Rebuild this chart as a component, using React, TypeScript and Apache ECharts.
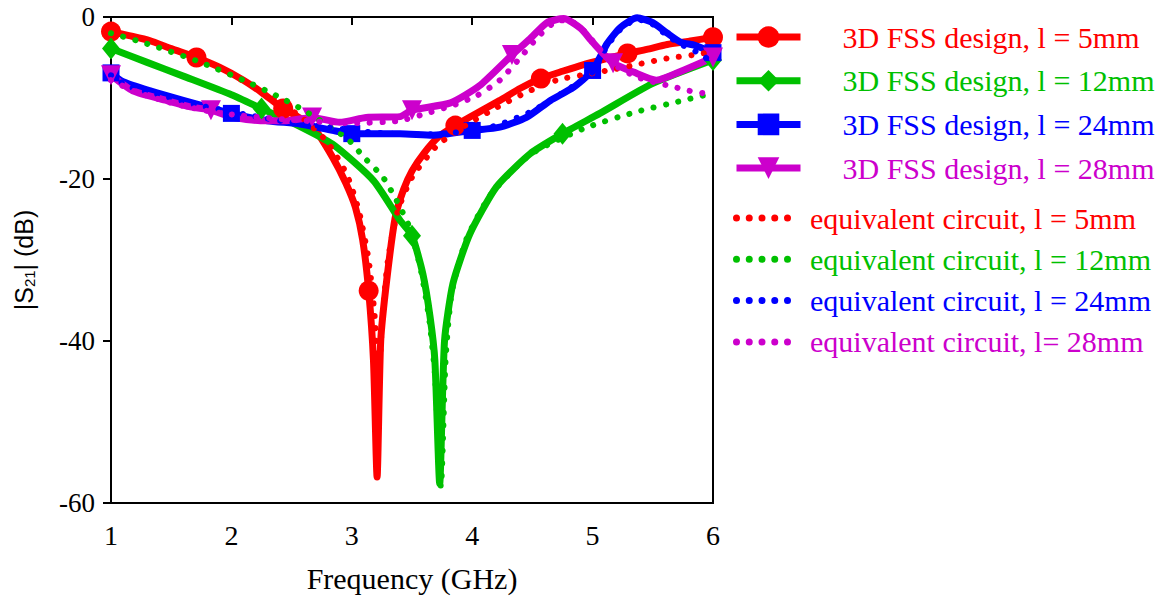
import React, { useEffect, useRef } from "react";
import * as echarts from "echarts";

// ---------- data ----------
const redX = [1, 1.15, 1.32, 1.5, 1.71, 1.9, 2.1, 2.25, 2.43, 2.55, 2.68, 2.84, 2.95, 3.03, 3.09, 3.14, 3.18, 3.21, 3.24, 3.29, 3.36, 3.43, 3.5, 3.6, 3.72, 3.86, 4.0, 4.23, 4.4, 4.57, 4.75, 4.92, 5.1, 5.29, 5.45, 5.62, 5.8, 6];
const redY = [-1.8, -2.3, -2.9, -3.9, -5.0, -6.2, -7.8, -9.3, -11.3, -12.3, -13.6, -17.3, -20.5, -23.5, -27.5, -33.8, -42.4, -56.8, -40, -32.5, -24.8, -21.3, -19, -16.8, -14.8, -13.4, -12.2, -10.3, -8.8, -7.6, -6.7, -5.9, -5.2, -4.5, -4.0, -3.4, -3.0, -2.5];
const redMarkers = [1, 1.71, 2.43, 3.14, 3.86, 4.57, 5.29, 6];

const redEqX = [1, 1.3, 1.71, 2.1, 2.4, 2.6, 2.8, 2.96, 3.06, 3.14, 3.19, 3.22, 3.25, 3.3, 3.38, 3.5, 3.7, 3.9, 4.2, 4.45, 4.7, 4.98, 5.2, 5.39, 5.62, 5.83, 6];
const redEqY = [-1.9, -3.0, -5.1, -7.9, -10.5, -12.6, -15.5, -19.5, -24, -30, -37, -46, -38, -30, -24, -19.8, -16, -13.8, -11.2, -9.3, -7.8, -7.0, -6.4, -5.8, -5.1, -4.7, -4.3];

const greenX = [1, 1.3, 1.6, 2.0, 2.25, 2.5, 2.84, 3.18, 3.4, 3.5, 3.59, 3.65, 3.69, 3.73, 3.77, 3.84, 3.98, 4.2, 4.48, 4.75, 5.06, 5.5, 6];
const greenY = [-3.9, -5.6, -7.3, -9.6, -11.3, -13.0, -15.7, -20.2, -25.1, -27.0, -31.7, -37, -42.4, -57.6, -40, -32.9, -26.8, -21, -16.9, -14.4, -11.9, -8.2, -5.3];
const greenMarkers = [1, 2.25, 3.5, 4.75, 6];

const greenEqX = [1, 1.3, 1.71, 2.1, 2.4, 2.6, 2.96, 3.1, 3.26, 3.37, 3.48, 3.57, 3.64, 3.69, 3.74, 3.78, 3.83, 3.95, 4.15, 4.48, 4.92, 5.34, 5.75, 6];
const greenEqY = [-2.0, -3.3, -5.4, -7.8, -9.9, -11.5, -15.0, -17.3, -19.8, -22.6, -26, -31, -37, -44, -58, -42, -34, -27.5, -22, -17, -13.8, -11.8, -10.3, -9.4];

const blueX = [1, 1.1, 1.32, 1.6, 2.0, 2.3, 2.57, 2.84, 3.0, 3.4, 3.67, 4.0, 4.23, 4.45, 4.65, 4.84, 5.0, 5.12, 5.23, 5.37, 5.5, 5.62, 5.73, 5.85, 6];
const blueY = [-6.9, -8.0, -9.1, -10.3, -11.9, -12.8, -13.2, -14.0, -14.4, -14.4, -14.6, -14.0, -13.6, -12.4, -10.3, -8.7, -6.6, -3.3, -1.3, -0.1, -0.7, -2.0, -3.1, -3.5, -4.4];
const blueMarkers = [1, 2, 3, 4, 5, 6];

const blueEqX = [1, 1.15, 1.4, 1.7, 2.0, 2.4, 2.8, 3.2, 3.6, 3.9, 4.2, 4.5, 4.8, 5.0, 5.12, 5.24, 5.37, 5.5, 5.62, 5.75, 5.9, 6];
const blueEqY = [-7.2, -8.6, -9.6, -10.8, -11.7, -12.8, -13.6, -14.3, -14.5, -14.2, -13.4, -11.6, -8.9, -6.8, -3.6, -1.4, -0.3, -0.9, -2.3, -3.5, -4.6, -5.7];

const magX = [1, 1.18, 1.46, 1.66, 1.83, 2.01, 2.24, 2.46, 2.67, 2.9, 3.12, 3.4, 3.5, 3.82, 4.06, 4.33, 4.48, 4.62, 4.76, 4.9, 5.0, 5.17, 5.34, 5.53, 5.75, 6];
const magY = [-7.2, -9.1, -10.3, -11.1, -11.5, -12.4, -12.8, -12.8, -12.4, -13.0, -12.4, -12.3, -11.5, -10.6, -8.5, -4.7, -2.7, -0.7, -0.2, -1.4, -3.1, -5.7, -6.8, -7.8, -6.6, -5.0];
const magMarkers = [1, 1.83, 2.67, 3.5, 4.33, 5.17, 6];

const magEqX = [1, 1.2, 1.5, 1.8, 2.1, 2.5, 3.0, 3.4, 3.62, 3.84, 4.04, 4.23, 4.4, 4.55, 4.7, 4.8, 4.92, 5.05, 5.18, 5.35, 5.5, 5.64, 5.8, 6];
const magEqY = [-7.8, -9.2, -10.6, -11.6, -12.2, -12.7, -13.1, -12.8, -11.9, -10.9, -9.7, -7.8, -5.0, -2.4, -0.5, -0.4, -1.6, -3.8, -5.9, -7.3, -8.0, -8.5, -9.1, -9.6];

const designNames = [
  "3D FSS design, l = 5mm",
  "3D FSS design, l = 12mm",
  "3D FSS design, l = 24mm",
  "3D FSS design, l = 28mm",
];
const circuitNames = [
  "equivalent circuit, l = 5mm",
  "equivalent circuit, l = 12mm",
  "equivalent circuit, l = 24mm",
  "equivalent circuit, l= 28mm",
];
const xTicks = { min: 1, max: 6, interval: 1 };
const yTicks = { min: -60, max: 0, interval: 20 };

const RED = "#ff0000";
const GREEN = "#00c000";
const BLUE = "#0000ff";
const MAG = "#cc00cc";
const SERIF = '"Liberation Serif", "Times New Roman", serif';
const SANS = '"Liberation Sans", Arial, sans-serif';

function withMarkers(xs: number[], ys: number[], markers: number[]) {
  return xs.map((x, i) =>
    markers.indexOf(x) >= 0 ? { value: [x, ys[i]] } : { value: [x, ys[i]], symbol: "none" }
  );
}
function plain(xs: number[], ys: number[]) {
  return xs.map((x, i) => [x, ys[i]]);
}

const dotsPath = (() => {
  let d = "path://";
  const r = 3.5;
  const n = 5;
  const w = 58;
  for (let i = 0; i < n; i++) {
    const cx = r + (i * (w - 2 * r)) / (n - 1);
    d += `M${cx - r},${r}a${r},${r} 0 1,0 ${2 * r},0a${r},${r} 0 1,0 ${-2 * r},0Z`;
  }
  return d;
})();

export default function App() {
  const ref = useRef<HTMLDivElement>(null);
  useEffect(() => {
    if (!ref.current) return;
    const chart = echarts.init(ref.current, null, { renderer: "svg" });

    const solid = (name: string, color: string, data: any[], symbol: string, size: any, rotate = 0) => ({
      type: "line",
      name,
      data,
      symbol,
      symbolSize: size,
      symbolRotate: rotate,
      showSymbol: true,
      smooth: 0.2,
      lineStyle: { color, width: 7 },
      itemStyle: { color },
      z: 2,
    });
    const dotted = (name: string, color: string, data: any[]) => ({
      type: "line",
      name,
      data,
      symbol: "none",
      smooth: 0.2,
      lineStyle: { color, width: 6, type: [0.1, 12.5], cap: "round" },
      itemStyle: { color },
      z: 3,
    });

    const colors = [RED, GREEN, BLUE, MAG];

    chart.setOption({
      animation: false,
      grid: {
        left: 111,
        right: 461,
        top: 17,
        bottom: 100,
        show: true,
        borderColor: "#000",
        borderWidth: 2,
      },
      legend: [
        {
          orient: "vertical",
          left: 733,
          top: 21,
          padding: 0,
          itemWidth: 64,
          itemHeight: 27,
          itemGap: 11.7,
          selectedMode: false,
          lineStyle: { width: 7 },
          textStyle: { fontFamily: SERIF, fontSize: 30, lineHeight: 32, padding: [0, 0, 0, 37] },
          data: designNames.map((n, i) => ({
            name: n,
            lineStyle: { width: 7, color: colors[i] },
            textStyle: { color: colors[i] },
          })),
        },
        {
          orient: "vertical",
          left: 733,
          top: 202,
          padding: 0,
          itemWidth: 58,
          itemHeight: 7,
          itemGap: 9.3,
          selectedMode: false,
          textStyle: { fontFamily: SERIF, fontSize: 30, lineHeight: 32, padding: [0, 0, 0, 14] },
          data: circuitNames.map((n, i) => ({ name: n, icon: dotsPath, textStyle: { color: colors[i] } })),
        },
      ],
      xAxis: {
        type: "value",
        min: xTicks.min,
        max: xTicks.max,
        interval: xTicks.interval,
        name: "Frequency (GHz)",
        nameLocation: "middle",
        nameGap: 60,
        nameTextStyle: { fontFamily: SERIF, fontSize: 30, color: "#000" },
        axisLine: { lineStyle: { color: "#000", width: 2 } },
        axisTick: { show: true, inside: false, length: 8, lineStyle: { color: "#000", width: 2 } },
        axisLabel: { fontFamily: SERIF, fontSize: 28, color: "#000", margin: 18 },
        splitLine: { show: false },
      },
      yAxis: {
        type: "value",
        min: yTicks.min,
        max: yTicks.max,
        interval: yTicks.interval,
        name: "|S{sub|21}| (dB)",
        nameLocation: "middle",
        nameGap: 74,
        nameRotate: 90,
        nameTextStyle: {
          fontFamily: SANS,
          fontSize: 25,
          color: "#000",
          rich: {
            sub: { fontFamily: SANS, fontSize: 15, color: "#000", verticalAlign: "bottom", padding: [11, 0, 0, 0] },
          },
        },
        axisLine: { show: true, lineStyle: { color: "#000", width: 2 } },
        axisTick: { show: true, inside: false, length: 8, lineStyle: { color: "#000", width: 2 } },
        axisLabel: { fontFamily: SERIF, fontSize: 27, color: "#000", margin: 16 },
        splitLine: { show: false },
      },
      series: [
        solid(designNames[0], RED, withMarkers(redX, redY, redMarkers), "circle", 20),
        solid(designNames[1], GREEN, withMarkers(greenX, greenY, greenMarkers), "diamond", [18, 22]),
        solid(designNames[2], BLUE, withMarkers(blueX, blueY, blueMarkers), "rect", 17),
        solid(designNames[3], MAG, withMarkers(magX, magY, magMarkers), "triangle", 20, 180),
        dotted(circuitNames[0], RED, plain(redEqX, redEqY)),
        dotted(circuitNames[1], GREEN, plain(greenEqX, greenEqY)),
        dotted(circuitNames[2], BLUE, plain(blueEqX, blueEqY)),
        dotted(circuitNames[3], MAG, plain(magEqX, magEqY)),
      ],
    });
    return () => chart.dispose();
  }, []);

  return (
    <div
      ref={ref}
      style={{ position: "absolute", left: 0, top: 0, width: 1174, height: 603, background: "#fff" }}
    />
  );
}
